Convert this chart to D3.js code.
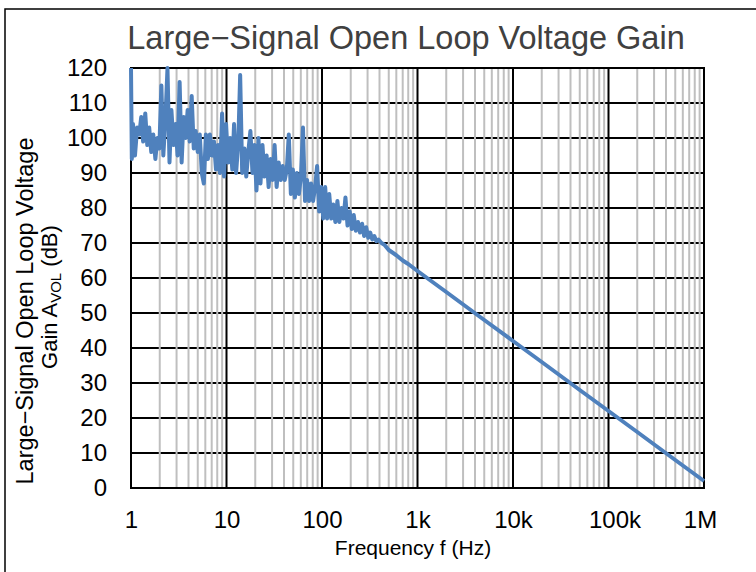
<!DOCTYPE html>
<html>
<head>
<meta charset="utf-8">
<script src="https://cdn.jsdelivr.net/npm/d3@7/dist/d3.min.js"></script>
<style>
  html, body { margin: 0; padding: 0; background: #fff; }
  svg { display: block; font-family: "Liberation Sans", Arial, sans-serif; }
</style>
</head>
<body>
<svg id="chart" width="756" height="572"></svg>
<script>
// ---- data ----
const chartTitle = "Large\u2212Signal Open Loop Voltage Gain";
const xAxisTitle = "Frequency f (Hz)";
const yTitleLine1 = "Large\u2212Signal Open Loop Voltage";
const yTitleLine2 = ["Gain A", "VOL", " (dB)"];

const xTickValues = [1, 10, 100, 1000, 10000, 100000, 1000000];
const xTickLabels = ["1", "10", "100", "1k", "10k", "100k", "1M"];
const yTickValues = [0, 10, 20, 30, 40, 50, 60, 70, 80, 90, 100, 110, 120];

const freqHz = [
  1.00, 1.02, 1.05, 1.10, 1.16, 1.22, 1.28, 1.34, 1.41, 1.48, 1.55, 1.63, 1.71, 1.80, 1.89, 1.98,
  2.08, 2.18, 2.29, 2.41, 2.53, 2.65, 2.79, 2.93, 3.07, 3.23, 3.39, 3.56, 3.73, 3.92, 4.12, 4.32,
  4.54, 4.76, 5.00, 5.25, 5.51, 5.79, 6.08, 6.38, 6.70, 7.04, 7.39, 7.76, 8.15, 8.56, 8.99, 9.43, 9.90,
  10.4, 10.9, 11.5, 12.0, 12.6, 13.3, 13.9, 14.6, 15.4, 16.1, 16.9, 17.8, 18.7, 19.6, 20.6, 21.6,
  22.7, 23.8, 25.0, 26.3, 27.6, 29.0, 30.4, 31.9, 33.5, 35.2, 37.0, 38.8, 40.7, 42.8, 44.9, 47.2,
  49.5, 52.0, 54.6, 57.3, 60.2, 63.2, 66.4, 69.7, 73.2, 76.8, 80.7, 84.7, 88.9, 93.4, 98.0,
  103, 108, 113, 119, 125, 131, 138, 145, 152, 160, 168, 176, 185, 195, 205, 215,
  226, 238, 250, 263, 276, 290, 305, 320, 336, 353, 371, 390, 420, 450, 500, 600, 700, 800,
  1000, 2000, 5000, 10000, 20000, 50000, 100000, 200000, 500000, 1000000
];
const gainDb = [
  120, 94, 104, 95, 103, 101, 106, 99, 107, 98, 103, 96, 101, 94, 100, 97,
  115, 95, 105, 120, 93, 108, 98, 104, 95, 116, 93, 106, 100, 108, 99, 112,
  97, 102, 96, 101, 90, 87, 101, 94, 101, 95, 99, 91, 98, 90, 107, 89, 104,
  93, 100, 91, 104, 90, 99, 118, 90, 97, 89, 96, 102, 90, 98, 85, 100,
  87, 98, 89, 95, 86, 94, 88, 98, 86, 93, 88, 92, 88, 91, 101, 84,
  91, 83, 90, 84, 89, 103, 82, 88, 82, 87, 82, 86, 92, 79, 86,
  77, 86, 77, 84, 77, 81, 76, 82, 76, 80, 77, 83, 75, 79, 74, 78,
  73.5, 76, 73, 75.5, 72, 74.5, 71.5, 73, 71, 72, 70.5, 71, 70, 69.5, 68, 66.5, 65, 64,
  62, 56, 48, 42, 36, 28, 22, 16, 8, 2
];

// ---- layout ----
const svg = d3.select("#chart");
const plotL = 131, plotR = 704, plotT = 68, plotB = 488;
const fontFam = "'Liberation Sans', Arial, sans-serif";

const x = d3.scaleLog().domain([1, 1e6]).range([plotL, plotR]);
const y = d3.scaleLinear().domain([0, 120]).range([plotB, plotT]);

// outer frame (only top/left edges visible)
svg.append("rect")
  .attr("x", 5).attr("y", 9).attr("width", 800).attr("height", 600)
  .attr("fill", "none").attr("stroke", "#000").attr("stroke-width", 1.5);

// horizontal major gridlines
svg.append("g").selectAll("line").data(yTickValues).join("line")
  .attr("x1", plotL).attr("x2", plotR)
  .attr("y1", d => y(d)).attr("y2", d => y(d))
  .attr("stroke", "#000").attr("stroke-width", 2);

// minor vertical gridlines
const minor = [];
for (let d = 0; d < 6; d++) for (let k = 2; k <= 9; k++) minor.push(k * Math.pow(10, d));
svg.append("g").selectAll("line").data(minor).join("line")
  .attr("x1", d => x(d)).attr("x2", d => x(d))
  .attr("y1", plotT).attr("y2", plotB)
  .attr("stroke", "#bfbfbf").attr("stroke-width", 2);

// major vertical gridlines
svg.append("g").selectAll("line").data(xTickValues).join("line")
  .attr("x1", d => x(d)).attr("x2", d => x(d))
  .attr("y1", plotT).attr("y2", plotB)
  .attr("stroke", "#000").attr("stroke-width", 2);

// plot border
svg.append("rect")
  .attr("x", plotL).attr("y", plotT).attr("width", plotR - plotL).attr("height", plotB - plotT)
  .attr("fill", "none").attr("stroke", "#000").attr("stroke-width", 2);

// data line
const pts = freqHz.map((f, i) => [f, gainDb[i]]);
svg.append("path")
  .datum(pts)
  .attr("fill", "none")
  .attr("stroke", "#4f81bd")
  .attr("stroke-width", 4)
  .attr("stroke-linejoin", "round")
  .attr("d", d3.line().x(d => x(d[0])).y(d => y(d[1])));

// axes (labels only)
const labelShift = {"100k": 6, "1M": -4};
const xAxis = svg.append("g")
  .attr("transform", `translate(0,${plotB})`)
  .call(d3.axisBottom(x).tickValues(xTickValues).tickFormat((d, i) => xTickLabels[i]).tickSize(0).tickPadding(23));
xAxis.select(".domain").remove();
xAxis.selectAll("text").attr("font-size", 24).attr("fill", "#000")
  .attr("font-family", fontFam)
  .attr("dx", (d, i) => labelShift[xTickLabels[i]] || 0);

const yAxis = svg.append("g")
  .attr("transform", `translate(${plotL},0)`)
  .call(d3.axisLeft(y).tickValues(yTickValues).tickSize(0).tickPadding(24));
yAxis.select(".domain").remove();
yAxis.selectAll("text").attr("font-size", 24).attr("fill", "#000")
  .attr("font-family", fontFam);

// title
svg.append("text")
  .attr("x", 406).attr("y", 49)
  .attr("text-anchor", "middle")
  .attr("font-size", 32.5)
  .attr("fill", "#404040")
  .text(chartTitle);

// x axis title
svg.append("text")
  .attr("x", 413).attr("y", 555)
  .attr("text-anchor", "middle")
  .attr("font-size", 21)
  .attr("fill", "#000")
  .text(xAxisTitle);

// y axis title
const yt = svg.append("g").attr("transform", "rotate(-90)");
yt.append("text")
  .attr("x", -311).attr("y", 33)
  .attr("text-anchor", "middle")
  .attr("font-size", 23.5)
  .attr("fill", "#000")
  .text(yTitleLine1);
const t2 = yt.append("text")
  .attr("x", -297).attr("y", 57)
  .attr("text-anchor", "middle")
  .attr("font-size", 22)
  .attr("fill", "#000");
t2.append("tspan").text(yTitleLine2[0]);
t2.append("tspan").attr("font-size", 15).attr("dy", 4).text(yTitleLine2[1]);
t2.append("tspan").attr("dy", -4).text(yTitleLine2[2]);
</script>
</body>
</html>
